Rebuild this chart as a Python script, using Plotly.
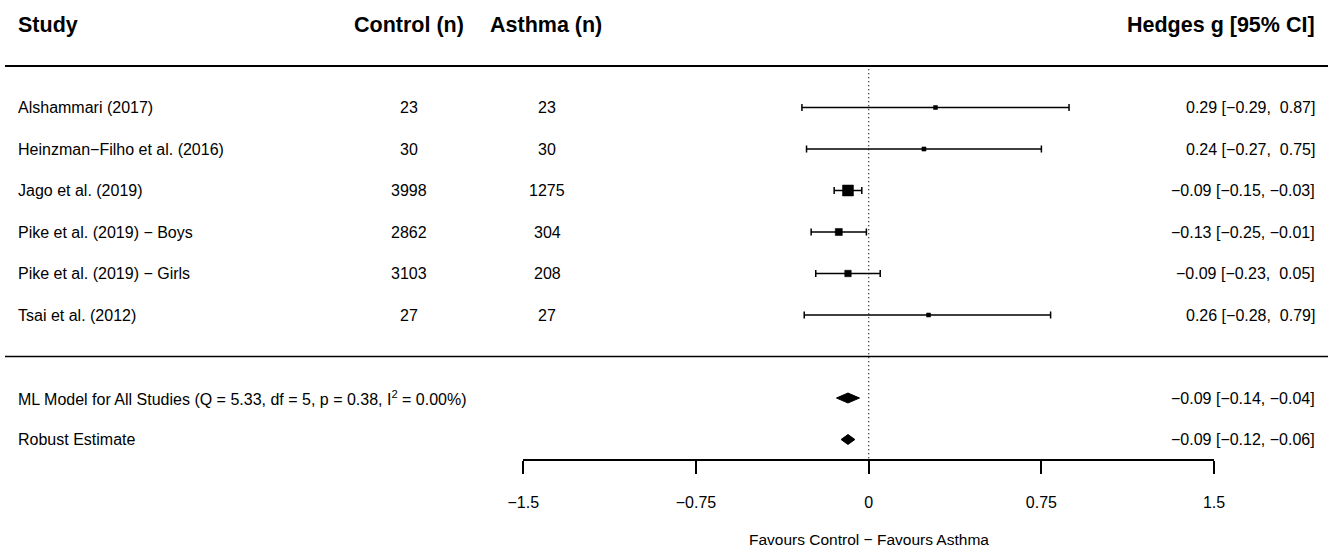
import plotly.graph_objects as go

# ---------------- data ----------------
studies = ["Alshammari (2017)", "Heinzman\u2212Filho et al. (2016)", "Jago et al. (2019)",
           "Pike et al. (2019) \u2212 Boys", "Pike et al. (2019) \u2212 Girls", "Tsai et al. (2012)"]
control_n = [23, 30, 3998, 2862, 3103, 27]
asthma_n = [23, 30, 1275, 304, 208, 27]
g_est = [0.29, 0.24, -0.09, -0.13, -0.09, 0.26]
g_lo = [-0.29, -0.27, -0.15, -0.25, -0.23, -0.28]
g_hi = [0.87, 0.75, -0.03, -0.01, 0.05, 0.79]

summary_labels = ["ML Model for All Studies (Q = 5.33, df = 5, p = 0.38, I<sup>2</sup> = 0.00%)",
                  "Robust Estimate"]
summary_est = [-0.09, -0.09]
summary_lo = [-0.14, -0.12]
summary_hi = [-0.04, -0.06]

tick_vals = [-1.5, -0.75, 0, 0.75, 1.5]
tick_text = ["\u22121.5", "\u22120.75", "0", "0.75", "1.5"]
headers = ["Study", "Control (n)", "Asthma (n)", "Hedges g [95% CI]"]
x_title = "Favours Control \u2212 Favours Asthma"

# ---------------- layout helpers ----------------
W, H = 1332, 548
FONT = "Liberation Sans, Arial, Helvetica, sans-serif"
BODY = 16
HEAD = 21.5

study_rows = list(range(1, len(studies) + 1))
summary_rows = [len(studies) + 2, len(studies) + 3]
header_row = -1
sep_top = 0
sep_mid = len(studies) + 1

def fmt(v, width=0):
    s = f"{v:.2f}".replace("-", "\u2212")
    return "\u00a0" * max(0, width - len(s)) + s

def ci_text(e, l, h, lw, hw):
    return f"{fmt(e)} [{fmt(l, lw)}, {fmt(h, hw)}]"

all_lo = g_lo + summary_lo
all_hi = g_hi + summary_hi
lw = max(len(fmt(v)) for v in all_lo)
hw = max(len(fmt(v)) for v in all_hi)

# marker sizes from inverse standard errors (as metafor does)
inv_se = [3.92 / (h - l) for l, h in zip(g_lo, g_hi)]
mn, mx = min(inv_se), max(inv_se)
sizes = [4 + 7 * (v - mn) / (mx - mn) for v in inv_se]

fig = go.Figure()

# study estimates with CIs
fig.add_trace(go.Scatter(
    x=g_est, y=study_rows, mode="markers",
    marker=dict(symbol="square", size=sizes, color="black", opacity=1,
                line=dict(width=0.5, color="black")),
    error_x=dict(type="data", symmetric=False,
                 array=[h - e for e, h in zip(g_est, g_hi)],
                 arrayminus=[e - l for e, l in zip(g_est, g_lo)],
                 color="black", thickness=1.5, width=3.5),
    hoverinfo="skip", showlegend=False))

# summary diamonds
dh = 0.12
for r, e, l, h in zip(summary_rows, summary_est, summary_lo, summary_hi):
    fig.add_trace(go.Scatter(
        x=[l, e, h, e, l], y=[r, r - dh, r, r + dh, r],
        mode="lines", fill="toself", fillcolor="black",
        line=dict(color="black", width=1), hoverinfo="skip", showlegend=False))

ann = []
# headers
ann.append(dict(x=17 / W, y=header_row, text=f"<b>{headers[0]}</b>", xanchor="left",
                font=dict(size=HEAD)))
ann.append(dict(x=409 / W, y=header_row, text=f"<b>{headers[1]}</b>", xanchor="center",
                font=dict(size=HEAD)))
ann.append(dict(x=546 / W, y=header_row, text=f"<b>{headers[2]}</b>", xanchor="center",
                font=dict(size=HEAD)))
ann.append(dict(x=1316 / W, y=header_row, text=f"<b>{headers[3]}</b>", xanchor="right",
                font=dict(size=HEAD)))

for r, s, c, a, e, l, h in zip(study_rows, studies, control_n, asthma_n, g_est, g_lo, g_hi):
    ann.append(dict(x=17 / W, y=r, text=s, xanchor="left"))
    ann.append(dict(x=409 / W, y=r, text=str(c), xanchor="center"))
    ann.append(dict(x=547 / W, y=r, text=str(a), xanchor="center"))
    ann.append(dict(x=1316 / W, y=r, text=ci_text(e, l, h, lw, hw), xanchor="right"))

for r, s, e, l, h in zip(summary_rows, summary_labels, summary_est, summary_lo, summary_hi):
    ann.append(dict(x=17 / W, y=r, text=s, xanchor="left"))
    ann.append(dict(x=1316 / W, y=r, text=ci_text(e, l, h, lw, hw), xanchor="right"))

for a in ann:
    a.update(xref="paper", yref="y", yanchor="middle", showarrow=False, borderpad=0)
    f = a.get("font", {})
    a["font"] = dict(family=FONT, color="black", size=f.get("size", BODY))

ann.append(dict(x=0, xref="x", y=1 - 539 / H, yref="paper", text=x_title, showarrow=False,
                xanchor="center", yanchor="middle",
                font=dict(family=FONT, size=15.5, color="black")))

shapes = [
    dict(type="line", xref="paper", yref="y", x0=5 / W, x1=1328 / W, y0=sep_top, y1=sep_top,
         line=dict(color="black", width=2)),
    dict(type="line", xref="paper", yref="y", x0=5 / W, x1=1328 / W, y0=sep_mid, y1=sep_mid,
         line=dict(color="black", width=1.5)),
    dict(type="line", xref="x", yref="y", x0=0, x1=0, y0=sep_top + 0.08, y1=summary_rows[-1] + 0.47,
         line=dict(color="black", width=1.2, dash="1px,3px"), layer="below"),
]

px_row = 41.5
row1_px = 107.5
axis_px = 459
y_top = (0 - row1_px) / px_row + 1
y_bot = (axis_px - row1_px) / px_row + 1

fig.update_layout(
    width=W, height=H, margin=dict(l=0, r=0, t=0, b=0, pad=0, autoexpand=False),
    autosize=False,
    paper_bgcolor="white", plot_bgcolor="white",
    font=dict(family=FONT, size=BODY, color="black"),
    annotations=ann, shapes=shapes,
    xaxis=dict(domain=[523.3 / W, 1214.1 / W], range=[-1.5, 1.5], automargin=False,
               tickvals=tick_vals, ticktext=tick_text,
               showgrid=False, zeroline=False, showline=True, linecolor="black", linewidth=1.8,
               ticks="outside", ticklen=13, tickwidth=1.8, tickcolor="black",
               ticklabelstandoff=15, tickfont=dict(family=FONT, size=BODY, color="black")),
    yaxis=dict(domain=[1 - axis_px / H, 1], range=[y_bot, y_top], automargin=False,
               visible=False, showgrid=False, zeroline=False),
)

fig.write_html("out.html")
